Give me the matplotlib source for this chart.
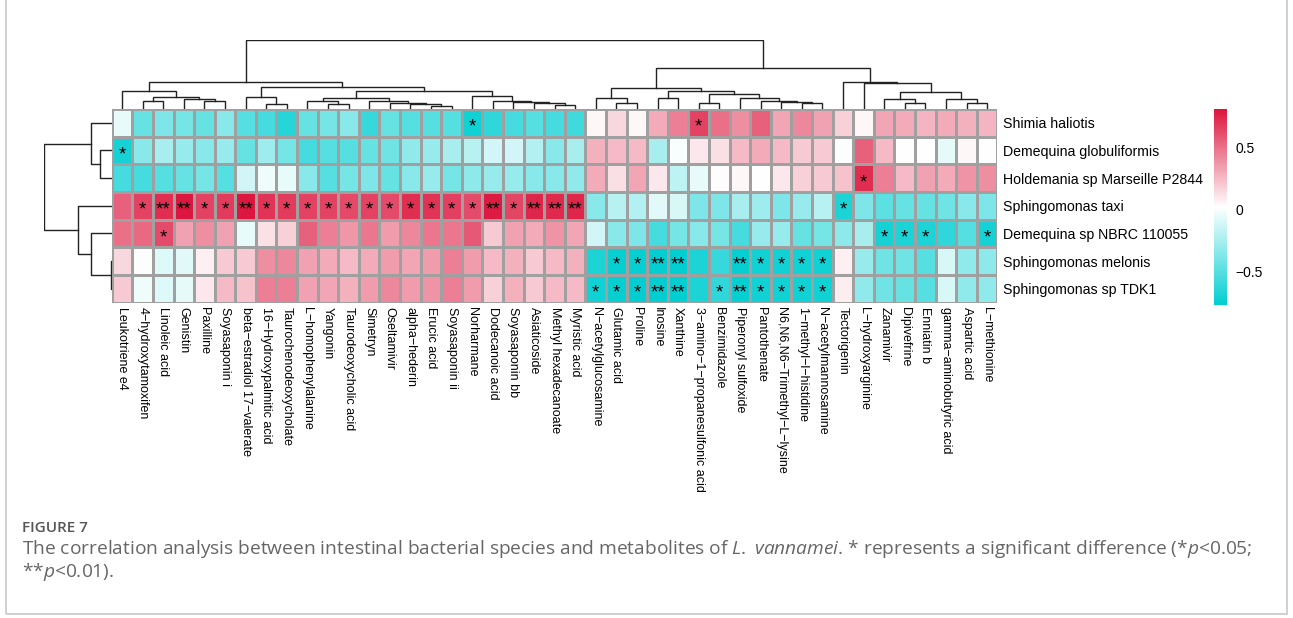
import numpy as np
import matplotlib
matplotlib.use('Agg')
import matplotlib.pyplot as plt
from matplotlib.colors import LinearSegmentedColormap, Normalize
from matplotlib.cm import ScalarMappable
from matplotlib.patches import Rectangle

plt.rcParams['font.family'] = ['Liberation Sans', 'DejaVu Sans']
plt.rcParams['mathtext.fontset'] = 'custom'
plt.rcParams['mathtext.rm'] = 'Open Sans'
plt.rcParams['mathtext.it'] = 'Open Sans:italic'

species = ['Shimia haliotis', 'Demequina globuliformis', 'Holdemania sp Marseille P2844',
           'Sphingomonas taxi', 'Demequina sp NBRC 110055', 'Sphingomonas melonis',
           'Sphingomonas sp TDK1']

metabolites = ['Leukotriene e4', '4\u2212hydroxytamoxifen', 'Linoleic acid', 'Genistin', 'Paxilline',
               'Soyasaponin i', 'beta\u2212estradiol 17\u2212valerate', '16\u2212Hydroxypalmitic acid',
               'Taurochenodeoxycholate', 'L\u2212homophenylalanine', 'Yangonin', 'Taurodeoxycholic acid',
               'Simetryn', 'Oseltamivir', 'alpha\u2212hederin', 'Erucic acid', 'Soyasaponin ii',
               'Norharmane', 'Dodecanoic acid', 'Soyasaponin bb', 'Asiaticoside',
               'Methyl hexadecanoate', 'Myristic acid', 'N\u2212acetylglucosamine', 'Glutamic acid',
               'Proline', 'Inosine', 'Xanthine', '3\u2212amino\u22121\u2212propanesulfonic acid',
               'Benzimidazole', 'Piperonyl sulfoxide', 'Pantothenate',
               'N6,N6,N6\u2212Trimethyl\u2212L\u2212lysine', '1\u2212methyl\u2212l\u2212histidine',
               'N\u2212acetylmannosamine', 'Tectorigenin', 'L\u2212hydroxyarginine', 'Zanamivir',
               'Dipivefrine', 'Enniatin b', 'gamma\u2212aminobutyric acid', 'Aspartic acid',
               'L\u2212methionine']

# correlation coefficients, one list per species (columns in metabolite order)
r_shimia = [-0.05, -0.45, -0.38, -0.40, -0.45, -0.35, -0.50, -0.55, -0.65, -0.45, -0.40, -0.35, -0.60, -0.45,
            -0.50, -0.50, -0.50, -0.72, -0.62, -0.55, -0.50, -0.55, -0.57,
            0.05, 0.15, 0.05, 0.30, 0.45,
            0.65, 0.50, 0.40, 0.55, 0.32, 0.42, 0.33, 0.18, 0.05, 0.32, 0.30, 0.27, 0.30, 0.28, 0.27]
r_dglob = [-0.70, -0.35, -0.25, -0.30, -0.35, -0.30, -0.45, -0.28, -0.40, -0.55, -0.50, -0.50, -0.45, -0.42,
           -0.32, -0.30, -0.25, -0.20, -0.12, -0.12, -0.22, -0.35, -0.25,
           0.28, 0.25, 0.25, -0.25, 0.00,
           0.10, 0.13, 0.25, 0.30, 0.25, 0.20, 0.20, 0.01, 0.55, 0.25, 0.02, 0.02, -0.06, 0.05, 0.02]
r_holde = [-0.55, -0.55, -0.50, -0.45, -0.40, -0.50, -0.12, -0.03, -0.05, -0.35, -0.50, -0.40, -0.38, -0.45,
           -0.35, -0.30, -0.40, -0.33, -0.30, -0.30, -0.35, -0.35, -0.32,
           0.30, 0.13, 0.32, 0.10, -0.18,
           -0.05, 0.03, 0.05, 0.02, 0.10, 0.18, 0.20, 0.22, 0.72, 0.45, 0.25, 0.33, 0.30, 0.38, 0.40]
r_staxi = [0.55, 0.65, 0.72, 0.80, 0.65, 0.68, 0.80, 0.70, 0.68, 0.65, 0.65, 0.63, 0.65, 0.62,
           0.72, 0.70, 0.66, 0.62, 0.78, 0.64, 0.75, 0.73, 0.75,
           -0.35, -0.20, -0.22, -0.07, -0.10,
           -0.38, -0.38, -0.25, -0.28, -0.38, -0.30, -0.20, -0.68, -0.38, -0.48, -0.45, -0.45, -0.42, -0.35, -0.38]
r_dnbrc = [0.50, 0.52, 0.62, 0.33, 0.40, 0.33, -0.05, 0.12, 0.18, 0.55, 0.45, 0.37, 0.48, 0.35,
           0.42, 0.48, 0.48, 0.58, 0.20, 0.33, 0.30, 0.38, 0.32,
           -0.12, -0.35, -0.38, -0.55, -0.40,
           -0.35, -0.40, -0.55, -0.30, -0.30, -0.45, -0.40, -0.33, -0.25, -0.70, -0.68, -0.68, -0.62, -0.50, -0.70]
r_melon = [0.15, 0.01, -0.08, -0.07, 0.07, 0.20, 0.20, 0.40, 0.42, 0.33, 0.30, 0.25, 0.30, 0.35,
           0.32, 0.35, 0.45, 0.35, 0.25, 0.28, 0.20, 0.25, 0.28,
           -0.68, -0.75, -0.75, -0.76, -0.77,
           -0.68, -0.60, -0.75, -0.72, -0.72, -0.72, -0.72, 0.07, -0.30, -0.42, -0.42, -0.50, -0.10, -0.32, -0.33]
r_tdk1 = [0.20, -0.03, -0.08, -0.06, 0.10, 0.25, 0.22, 0.45, 0.45, 0.33, 0.32, 0.28, 0.35, 0.42,
          0.35, 0.38, 0.45, 0.35, 0.18, 0.28, 0.20, 0.25, 0.25,
          -0.72, -0.75, -0.76, -0.76, -0.77,
          -0.68, -0.62, -0.75, -0.72, -0.72, -0.72, -0.72, 0.08, -0.32, -0.42, -0.45, -0.50, -0.10, -0.32, -0.32]

# significance marks: {column index: mark}
sig_shimia = {17: '*', 28: '*'}
sig_dglob = {0: '*'}
sig_holde = {36: '*'}
sig_staxi = {1: '*', 2: '**', 3: '**', 4: '*', 5: '*', 6: '**', 7: '*', 8: '*', 9: '*', 10: '*',
             11: '*', 12: '*', 13: '*', 14: '*', 15: '*', 16: '*', 17: '*', 18: '**', 19: '*',
             20: '**', 21: '**', 22: '**', 35: '*'}
sig_dnbrc = {2: '*', 37: '*', 38: '*', 39: '*', 42: '*'}
sig_melon = {24: '*', 25: '*', 26: '**', 27: '**', 30: '**', 31: '*', 32: '*', 33: '*', 34: '*'}
sig_tdk1 = {23: '*', 24: '*', 25: '*', 26: '**', 27: '**', 29: '*', 30: '**', 31: '*', 32: '*',
            33: '*', 34: '*'}

# hierarchical clustering merges (left, right, height); new nodes numbered after the leaves
col_merges = [(15, 16, 3.0), (14, 43, 5.0), (13, 44, 6.3), (12, 45, 7.7), (10, 11, 5.0),
              (9, 47, 7.7), (48, 46, 11.0), (21, 22, 4.0), (20, 50, 5.7), (19, 51, 7.0),
              (18, 52, 8.3), (17, 53, 13.3), (49, 54, 18.3), (7, 8, 5.0), (6, 56, 12.3),
              (57, 55, 21.7), (1, 2, 7.7), (4, 5, 7.7), (3, 60, 9.7), (59, 61, 12.3),
              (0, 62, 18.3), (63, 58, 26.7),
              (24, 25, 6.3), (23, 65, 11.3), (26, 27, 10.7), (28, 29, 5.7), (33, 34, 5.7),
              (32, 69, 7.3), (31, 70, 8.3), (30, 71, 11.3), (68, 72, 14.7), (67, 73, 18.3),
              (66, 74, 21.3), (38, 39, 5.7), (37, 76, 9.7), (41, 42, 6.3), (40, 78, 9.7),
              (77, 79, 16.7), (36, 80, 25.7), (35, 81, 26.7), (75, 82, 41.3), (64, 83, 69.0)]
row_merges = [(5, 6, 1.0), (1, 2, 11.7), (0, 8, 21.0), (4, 7, 21.0), (3, 10, 33.3), (9, 11, 67.7)]

rows = [r_shimia, r_dglob, r_holde, r_staxi, r_dnbrc, r_melon, r_tdk1]
sigs = [sig_shimia, sig_dglob, sig_holde, sig_staxi, sig_dnbrc, sig_melon, sig_tdk1]
mat = np.array(rows)

W, H = 1293, 618
fig = plt.figure(figsize=(W / 100, H / 100), dpi=100)


def px_axes(l, t, r, b):
    return fig.add_axes([l / W, 1 - b / H, (r - l) / W, (b - t) / H])


def dendro_segments(merges, n):
    pos = {i: i + 0.5 for i in range(n)}
    hgt = {i: 0.0 for i in range(n)}
    segs = []
    for k, (a, b, h) in enumerate(merges):
        segs.append(([pos[a], pos[a], pos[b], pos[b]], [hgt[a], h, h, hgt[b]]))
        pos[n + k] = (pos[a] + pos[b]) / 2
        hgt[n + k] = h
    return segs


cmap = LinearSegmentedColormap.from_list('tw', ['#00CED1', '#FFFFFF', '#DC143C'], N=256)
norm = Normalize(vmin=-0.77, vmax=0.81)

# heatmap
L, T, R, B = 111.7, 109, 997.5, 302.5
ax = px_axes(L, T, R, B)
ax.pcolormesh(np.arange(44), np.arange(8), mat, cmap=cmap, norm=norm,
              edgecolors='#A0A0A0', linewidth=0.9)
ax.set_xlim(0, 43)
ax.set_ylim(7, 0)
for i, sg in enumerate(sigs):
    for j, s in sg.items():
        ax.text(j + 0.5, i + 0.66, s, ha='center', va='center', fontsize=13.5, color='black')
ax.set_xticks(np.arange(43) + 0.5)
ax.set_xticklabels(metabolites, rotation=270, fontsize=9, va='top', ha='center')
ax.set_yticks(np.arange(7) + 0.5)
ax.set_yticklabels(species, fontsize=10.2)
ax.yaxis.tick_right()
ax.tick_params(length=0, pad=4)
ax.tick_params(axis='x', pad=3)
for sp in ax.spines.values():
    sp.set_visible(False)

# column dendrogram
cax_d = px_axes(L, 40, R, T)
for xs, ys in dendro_segments(col_merges, 43):
    cax_d.plot(xs, ys, color='#222222', lw=1.0, solid_joinstyle='miter')
cax_d.set_xlim(0, 43)
cax_d.set_ylim(0, 69)
cax_d.axis('off')

# row dendrogram
rax = px_axes(L - 68, T, L, B)
for ys, xs in dendro_segments(row_merges, 7):
    rax.plot(xs, ys, color='#222222', lw=1.0)
rax.set_xlim(68, 0)
rax.set_ylim(7, 0)
rax.axis('off')

# colour key
kax = px_axes(1214, 109, 1227, 305)
cb = fig.colorbar(ScalarMappable(norm=norm, cmap=cmap), cax=kax)
cb.outline.set_visible(False)
cb.set_ticks([-0.5, 0, 0.5])
cb.set_ticklabels(['\u22120.5', '0', '0.5'])
kax.tick_params(length=0, pad=6, labelsize=10)

# caption
fig.text(22 / W, 1 - 528 / H, 'FIGURE 7', fontsize=11, color='#555555', family='Open Sans',
         weight='semibold', va='center')
fig.text(22 / W, 1 - 549 / H,
         r'The correlation analysis between intestinal bacterial species and metabolites of '
         r'$\mathit{L.}$ $\mathit{vannamei}$. * represents a significant difference (*$\mathit{p}$<0.05;',
         fontsize=13.8, color='#666666', family='Open Sans', va='center')
fig.text(22 / W, 1 - 572 / H, r'**$\mathit{p}$<0.01).', fontsize=13.8, color='#666666',
         family='Open Sans', va='center')

fig.patches.append(Rectangle((6 / W, 1 - 614 / H), (1287 - 6) / W, 614 / H + 0.05,
                             transform=fig.transFigure, fill=False, edgecolor='#C8C8C8', lw=1.2))

fig.savefig('out.png', dpi=100)
